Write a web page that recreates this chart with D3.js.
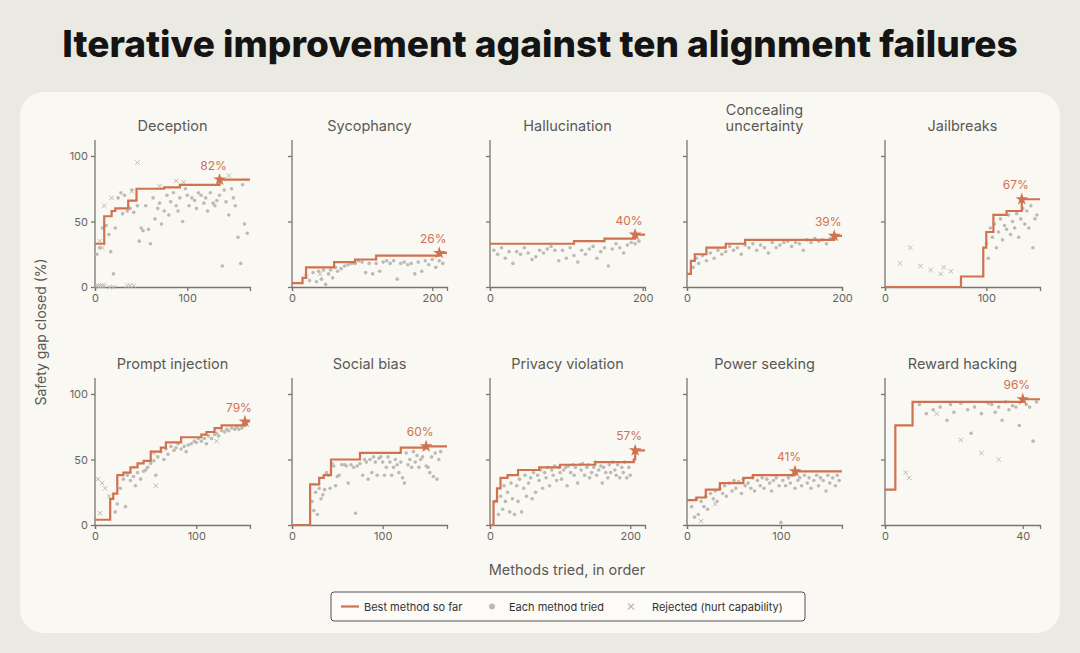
<!DOCTYPE html>
<html><head><meta charset="utf-8">
<script src="https://cdn.jsdelivr.net/npm/d3@7"></script>
<style>
body{margin:0;background:#ebeae2;font-family:Inter,"Open Sans",sans-serif;}
</style></head>
<body><svg id="c" width="1080" height="653"></svg>
<script>
// panel names and x extents
const titles = ["Deception","Sycophancy","Hallucination","Concealing|uncertainty","Jailbreaks",
  "Prompt injection","Social bias","Privacy violation","Power seeking","Reward hacking"];
const xMax = [168,221,203,200,153,153,171,221,165,45];
const xTicks = [[0,100],[0,200],[0,200],[0,200],[0,100],[0,100],[0,100],[0,200],[0,100],[0,40]];
const bestPct = [82,26,40,39,67,79,60,57,41,96];
const bestX = [135,210,190,190,135,148,148,207,115,40];

// best-so-far step lines: x,y pairs
const steps = [
 "0,33 10,54 18,58 22,60 36,66 45,75 75,76 92,78 135,82 168,82",
 "0,3 15,7 20,15 60,19 90,21 120,24 210,26 221,26",
 "0,33 110,35 150,37 190,40 203,40",
 "0,10 5,20 10,25 25,30 50,33 75,36 190,39 200,39",
 "0,0 75,0 75,8 97,8 97,30 100,42 107,55 120,58 135,67 153,67",
 "0,4 15,4 15,20 18,24 22,38 28,40 35,44 42,47 48,49 55,56 65,59 70,63 85,67 105,69 110,71 118,74 125,76 148,79 153,79",
 "0,0 20,0 20,31 30,36 35,38 43,50 75,55 120,59 148,60 171,60",
 "0,0 5,18 10,28 15,36 25,38 40,42 70,44 100,46 150,48 205,50 207,57 221,57",
 "0,19 10,21 20,27 35,32 60,36 70,38 115,41 165,41",
 "0,27 3,27 3,76 8,76 8,94 40,96 45,96"
];
// each method tried (dots)
const dots = [
 "2,25 5,30 8,45 12,47 15,40 17,27 20,10 22,45 25,68 28,72 30,56 32,70 35,58 38,60 40,74 42,57 46,62 48,35 50,45 52,43 55,62 58,44 60,33 63,68 65,52 68,60 70,64 72,48 75,58 78,70 80,55 82,65 85,72 88,62 90,58 92,68 95,50 98,75 100,70 102,62 105,68 108,66 110,60 112,72 115,70 118,64 120,68 122,58 125,72 128,64 130,62 132,66 135,70 138,16 140,74 142,65 145,55 148,75 150,68 152,62 155,38 158,18 160,78 162,48 165,41",
 "25,5 30,11 35,4 38,12 42,6 45,13 48,2 52,10 55,13 58,7 62,15 65,12 70,14 75,16 80,17 85,18 90,18 95,20 100,19 105,11 110,18 115,10 120,18 125,12 130,19 135,20 140,18 145,20 150,6 155,18 160,19 165,17 170,18 175,10 180,19 185,12 190,20 195,17 200,21 205,15 210,20 215,18",
 "5,28 10,25 15,30 20,22 25,27 30,18 35,27 40,25 45,30 50,26 55,21 60,23 65,28 70,26 75,29 80,31 85,28 90,20 95,28 100,22 105,30 110,24 115,19 120,28 125,25 130,29 135,31 140,22 145,27 150,30 155,16 160,29 165,33 170,30 175,26 180,32 185,34 190,33 195,35",
 "8,15 12,22 15,18 20,24 25,20 30,26 35,22 40,28 45,25 50,27 55,31 60,28 65,30 70,25 75,32 80,30 85,33 90,28 95,32 100,30 105,26 110,34 115,30 120,32 125,34 130,35 135,31 140,34 145,33 150,28 155,36 160,34 165,37 170,35 175,36 180,33 185,37",
 "100,33 102,22 104,45 106,38 108,48 110,30 112,42 114,52 116,36 118,47 120,44 122,55 124,40 126,50 128,45 130,56 132,38 134,52 136,60 138,48 140,58 142,45 144,62 146,30 148,52 150,55",
 "20,10 22,16 25,28 28,35 30,14 32,38 35,34 38,37 40,30 42,40 45,35 48,41 50,42 52,44 55,47 58,49 60,38 62,52 65,56 68,50 70,58 72,54 75,60 78,57 80,59 82,62 85,58 88,60 90,56 92,61 95,62 98,64 100,63 102,66 105,64 108,66 110,62 112,68 115,66 118,69 120,70 122,68 125,72 128,71 130,73 132,72 135,74 138,73 140,75 142,73 145,74 148,76",
 "22,18 24,11 26,25 28,8 30,28 32,20 34,23 36,27 38,40 40,38 42,28 44,47 46,45 48,30 50,37 52,38 55,46 58,46 60,45 62,32 65,46 68,44 70,9 72,45 75,47 78,38 80,50 82,48 84,35 86,50 88,40 90,52 92,48 94,38 96,51 98,52 100,48 102,38 104,44 106,52 108,48 110,38 112,44 114,50 116,46 118,40 120,48 122,36 124,32 126,55 128,46 130,50 132,44 134,56 136,48 138,53 140,44 142,50 144,52 146,58 148,45 150,44 152,40 154,52 156,37 158,55 160,35 162,50 164,56",
 "8,18 12,8 15,22 18,12 20,30 22,18 25,25 28,10 30,32 32,20 35,8 38,30 40,18 42,35 45,10 48,28 50,38 52,22 55,32 58,36 60,20 62,40 65,25 68,38 70,34 72,42 75,28 78,40 80,36 82,44 85,30 88,42 90,38 92,45 95,34 98,44 100,40 102,35 105,42 108,44 110,30 112,45 115,40 118,46 120,38 122,44 125,32 128,46 130,42 132,47 135,38 138,44 140,46 142,36 145,40 148,44 150,48 152,38 155,42 158,45 160,32 162,44 165,40 168,36 170,46 172,40 175,48 178,42 180,38 182,46 185,36 188,44 190,40 192,48 195,36 198,44 200,38",
 "5,14 8,6 10,20 12,8 15,18 18,14 20,22 22,12 25,24 28,20 30,26 32,18 35,28 38,24 40,30 42,22 45,32 48,26 50,34 52,28 55,33 58,24 60,35 62,30 65,32 68,28 70,36 72,26 75,34 78,30 80,36 82,28 85,35 88,32 90,26 92,34 95,36 98,30 100,2 102,34 105,30 108,36 110,32 112,38 115,28 118,34 120,36 122,30 125,38 128,32 130,36 132,28 135,34 138,38 140,30 142,36 145,34 148,26 150,38 152,32 155,36 158,30 160,38 162,34",
 "10,92 12,85 14,88 16,90 18,80 19,92 20,86 22,93 24,88 25,70 26,90 28,85 30,93 31,92 32,86 33,90 34,80 35,94 36,88 37,91 38,90 39,76 41,92 42,90 43,64 44,94"
];
// rejected (hurt capability)
const rejected = [
 "2,1 4,1 6,1 8,1 10,1 16,0 20,0 35,1 38,1 42,1 5,35 8,30 10,62 18,68 40,73 46,95 70,77 88,81 96,80 135,82 145,85",
 "20,8 40,10",
 "",
 "",
 "15,18 25,30 35,16 45,13 55,10 58,15 65,12",
 "3,35 5,9 7,32 10,28 14,22 60,30 58,55 120,64",
 "",
 "",
 "15,3 30,16",
 "6,40 7,36 22,65 28,55 33,50 15,85"
];

const parse = s => s.trim() ? s.trim().split(/\s+/).map(p => p.split(",").map(Number)) : [];

const svg = d3.select("#c");
const orange = "#d0714f", grey = "#bdbab3", axisC = "#77756f";

svg.append("text").attr("x",540).attr("y",57).attr("text-anchor","middle")
  .attr("font-size",37).attr("font-weight",800).attr("fill","#141414")
  .text("Iterative improvement against ten alignment failures");
svg.append("rect").attr("x",20).attr("y",92).attr("width",1040).attr("height",541)
  .attr("rx",24).attr("fill","#f9f8f3");

const left = [95,292,490,687,885], pw = 155;
const rowTop = [140,378], rowBot = [287,525], ph = 131;

titles.forEach((t, i) => {
  const r = Math.floor(i/5), c = i%5;
  const g = svg.append("g").attr("transform", `translate(${left[c]},${rowBot[r]-ph})`);
  const x = d3.scaleLinear().domain([0,xMax[i]]).range([0,pw]);
  const y = d3.scaleLinear().domain([0,100]).range([ph,0]);

  const xa = g.append("g").attr("transform",`translate(0,${ph})`)
    .call(d3.axisBottom(x).tickValues(xTicks[i]).tickSize(4).tickPadding(3));
  const ya = g.append("g").call(d3.axisLeft(y).tickValues([0,50,100]).tickSize(4).tickPadding(3)
    .tickFormat(c === 0 ? d3.format("d") : ""));
  [xa,ya].forEach(a => {
    a.selectAll("path,line").attr("stroke",axisC).attr("stroke-width",1.3);
    a.selectAll("text").attr("fill","#66645f").attr("font-size",11).attr("font-family","Inter,sans-serif");
  });
  ya.select(".domain").attr("d",`M-4,${-16}H0V${ph}`).attr("d",`M0,${-16}V${ph}`);

  const lines = t.split("|");
  lines.forEach((l, k) => g.append("text").attr("x",pw/2)
    .attr("y", -25 - (lines.length-1-k)*16).attr("text-anchor","middle")
    .attr("font-size",14.5).attr("fill","#5b5955").text(l));

  g.selectAll("circle.d").data(parse(dots[i])).join("circle")
    .attr("cx",d=>x(d[0])).attr("cy",d=>y(d[1])).attr("r",1.8).attr("fill",grey);
  g.selectAll("path.x").data(parse(rejected[i])).join("path")
    .attr("d",d=>{const a=x(d[0]),b=y(d[1]);return `M${a-2.2},${b-2.2}L${a+2.2},${b+2.2}M${a-2.2},${b+2.2}L${a+2.2},${b-2.2}`;})
    .attr("stroke",grey).attr("stroke-width",1);

  g.append("path").datum(parse(steps[i]))
    .attr("d", d3.line().x(d=>x(d[0])).y(d=>y(d[1])).curve(d3.curveStepAfter))
    .attr("fill","none").attr("stroke",orange).attr("stroke-width",2.2);

  const sx = x(bestX[i]), sy = y(bestPct[i]);
  g.append("path").attr("d",d3.symbol(d3.symbolStar,50)()).attr("transform",`translate(${sx},${sy})`).attr("fill",orange);
  g.append("text").attr("x",sx-6).attr("y",sy-10).attr("text-anchor","middle")
    .attr("font-size",12).attr("fill",orange).text(bestPct[i]+"%");
});

svg.append("text").attr("transform","translate(46,332) rotate(-90)").attr("text-anchor","middle")
  .attr("font-size",14).attr("fill","#5b5955").text("Safety gap closed (%)");
svg.append("text").attr("x",567).attr("y",575).attr("text-anchor","middle")
  .attr("font-size",14.5).attr("fill","#5b5955").text("Methods tried, in order");

// legend
const lg = svg.append("g").attr("transform","translate(331,592)");
lg.append("rect").attr("width",474).attr("height",29).attr("rx",3).attr("fill","#fcfbf8").attr("stroke","#555").attr("stroke-width",1);
lg.append("line").attr("x1",10).attr("x2",28).attr("y1",14.5).attr("y2",14.5).attr("stroke",orange).attr("stroke-width",2.2);
lg.append("text").attr("x",33).attr("y",18.5).attr("font-size",11).attr("fill","#333").text("Best method so far");
lg.append("circle").attr("cx",161).attr("cy",14.5).attr("r",3).attr("fill",grey);
lg.append("text").attr("x",178).attr("y",18.5).attr("font-size",11).attr("fill","#333").text("Each method tried");
lg.append("path").attr("d","M297,11.5L303,17.5M297,17.5L303,11.5").attr("stroke",grey).attr("stroke-width",1.2);
lg.append("text").attr("x",321).attr("y",18.5).attr("font-size",11).attr("fill","#333").text("Rejected (hurt capability)");
</script></body></html>
